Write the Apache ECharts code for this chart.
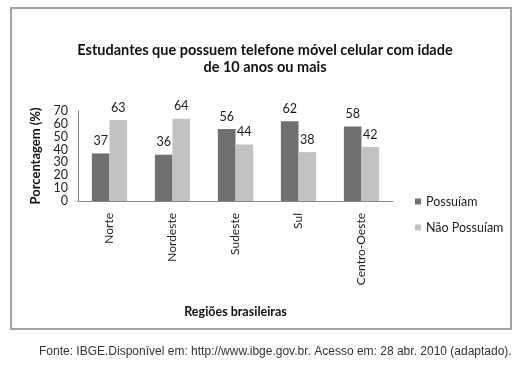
<!DOCTYPE html>
<html>
<head>
<meta charset="utf-8">
<script src="https://cdn.jsdelivr.net/npm/echarts@6/dist/echarts.min.js"></script>
<style>
html,body{margin:0;padding:0;background:#fff;}
#c{width:521px;height:370px;}
</style>
</head>
<body>
<div id="c"></div>
<script>
const categories = ['Norte', 'Nordeste', 'Sudeste', 'Sul', 'Centro-Oeste'];
const possuiam = [37, 36, 56, 62, 58];
const naoPossuiam = [63, 64, 44, 38, 42];
const seriesNames = ['Possuíam', 'Não Possuíam'];
const yTicks = { min: 0, max: 70, interval: 10 };

const FONT = 'Lato';
const chart = echarts.init(document.getElementById('c'), null, { renderer: 'canvas' });
const labelStyle = { show: true, position: 'top', distance: 6, color: '#1a1a1a', fontSize: 12.5, fontFamily: FONT };
chart.setOption({
  backgroundColor: '#fff',
  animation: false,
  title: {
    text: 'Estudantes que possuem telefone móvel celular com idade\nde 10 anos ou mais',
    left: 260, top: 37, textAlign: 'center',
    textStyle: { fontFamily: FONT, fontSize: 14.5, fontWeight: 'bold', color: '#111', lineHeight: 17 }
  },
  legend: {
    orient: 'vertical', left: 410, top: 190,
    itemWidth: 6, itemHeight: 6, itemGap: 13, icon: 'rect',
    textStyle: { fontFamily: FONT, fontSize: 12.5, color: '#222' },
    data: seriesNames
  },
  grid: { left: 78, right: 128, top: 111, bottom: 169, containLabel: false },
  xAxis: {
    type: 'category', data: categories,
    name: 'Regiões brasileiras', nameLocation: 'middle', nameGap: 104,
    nameTextStyle: { fontFamily: FONT, fontSize: 12.5, fontWeight: 'bold', color: '#111' },
    axisLine: { lineStyle: { color: '#888', width: 1 } },
    axisTick: { show: false },
    axisLabel: { rotate: 90, margin: 12, fontFamily: FONT, fontSize: 12, color: '#222', interval: 0 }
  },
  yAxis: {
    type: 'value', min: yTicks.min, max: yTicks.max, interval: yTicks.interval,
    name: 'Porcentagem (%)', nameLocation: 'middle', nameGap: 35, nameRotate: 90,
    nameTextStyle: { fontFamily: FONT, fontSize: 13, fontWeight: 'bold', color: '#111' },
    axisLine: { show: true, lineStyle: { color: '#888', width: 1 } },
    axisTick: { show: false },
    splitLine: { show: false },
    axisLabel: { margin: 10, fontFamily: FONT, fontSize: 12.5, color: '#222' }
  },
  series: [
    { name: seriesNames[0], type: 'bar', data: possuiam, barWidth: '28%', barGap: '0%',
      itemStyle: { color: '#707070' }, label: labelStyle },
    { name: seriesNames[1], type: 'bar', data: naoPossuiam, barWidth: '28%', barGap: '0%',
      itemStyle: { color: '#c2c2c2' }, label: labelStyle }
  ],
  graphic: [
    { type: 'rect', shape: { x: 11, y: 8, width: 500, height: 321 }, z: -10,
      style: { fill: 'none', stroke: '#a3a3a3', lineWidth: 2 } },
    { type: 'text', left: 39, top: 346,
      style: { text: 'Fonte: IBGE.Disponível em: http://www.ibge.gov.br. Acesso em: 28 abr. 2010 (adaptado).',
        font: '12px "Liberation Sans", Arial, sans-serif', fill: '#333' } }
  ]
});
</script>
</body>
</html>
